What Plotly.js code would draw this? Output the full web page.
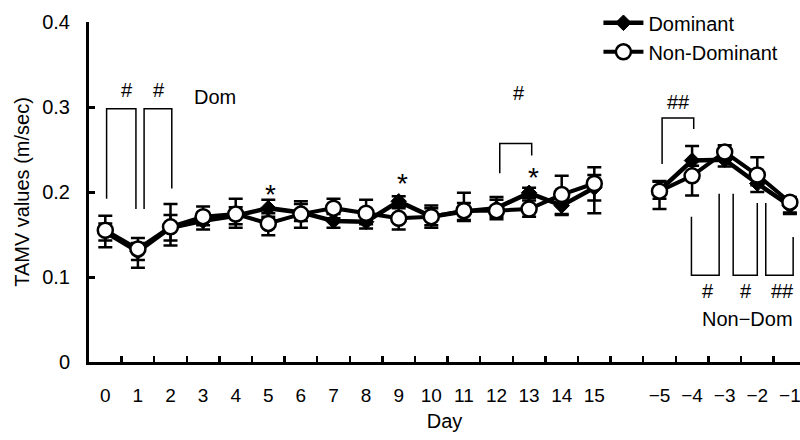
<!DOCTYPE html>
<html>
<head>
<meta charset="utf-8">
<script src="https://cdn.plot.ly/plotly-3.0.1.min.js"></script>
<style>html,body{margin:0;padding:0;background:#fff;}#chart{width:800px;height:440px;}</style>
</head>
<body>
<div id="chart"></div>
<script>
// Category labels (a blank slot separates the two periods)
const dayLabels = ['0','1','2','3','4','5','6','7','8','9','10','11','12','13','14','15','\u00a0','\u22125','\u22124','\u22123','\u22122','\u22121'];

// Dominant (filled diamonds)
const dominant    = [0.153,0.130,0.158,0.166,0.172,0.181,0.176,0.166,0.165,0.189,0.171,0.177,0.181,0.199,0.184,0.205,null,0.202,0.237,0.238,0.210,0.184];
const dominantErr = [0.010,0.010,0.015,0.010,0.010,0.010,0.010,0.008,0.008,0.006,0.010,0.010,0.010,0.006,0.010,0.015,null,0.010,0.017,0.008,0.010,0.008];

// Non-Dominant (open circles)
const nonDominant   = [0.155,0.133,0.159,0.171,0.174,0.163,0.174,0.181,0.175,0.169,0.171,0.178,0.178,0.180,0.197,0.210,null,0.201,0.219,0.247,0.220,0.188];
const nonDomErrPlus = [0.017,0.013,0.027,0.012,0.018,0.012,0.015,0.011,0.016,0.012,0.013,0.021,0.016,0.010,0.022,0.019,null,0.012,0.012,0.008,0.021,0.006];
const nonDomErrMinus= [0.020,0.022,0.022,0.010,0.016,0.014,0.016,0.012,0.013,0.013,0.013,0.012,0.010,0.009,0.024,0.035,null,0.021,0.023,0.008,0.012,0.014];

const yTicks = [0, 0.1, 0.2, 0.3, 0.4];
const yTickText = ['0', '0.1', '0.2', '0.3', '0.4'];

const FONT = 'Liberation Sans, Arial, sans-serif';

const traces = [
  {
    name: 'Dominant', x: dayLabels, y: dominant, type: 'scatter', mode: 'lines+markers',
    connectgaps: false,
    line: {color: '#000', width: 4.5},
    marker: {symbol: 'diamond', size: 12, color: '#000', line: {color: '#000', width: 1}},
    error_y: {type: 'data', array: dominantErr, visible: true, color: '#000', thickness: 2.5, width: 7}
  },
  {
    name: 'Non-Dominant', x: dayLabels, y: nonDominant, type: 'scatter', mode: 'lines+markers',
    connectgaps: false,
    line: {color: '#000', width: 4},
    marker: {symbol: 'circle', size: 15, color: '#fff', line: {color: '#000', width: 2.5}},
    error_y: {type: 'data', symmetric: false, array: nonDomErrPlus, arrayminus: nonDomErrMinus, visible: true, color: '#000', thickness: 2.5, width: 7}
  }
];

const lineStyle = {color: '#000', width: 1.5};
const shapes = [
  'M0.04,0.192 L0.04,0.298 L0.94,0.298 L0.94,0.180',
  'M1.19,0.180 L1.19,0.298 L2.04,0.298 L2.04,0.204',
  'M12.1,0.222 L12.1,0.257 L13.08,0.257 L13.08,0.243',
  'M17.08,0.233 L17.08,0.287 L18.05,0.287 L18.05,0.274',
  'M17.98,0.171 L17.98,0.102 L18.83,0.102 L18.83,0.198',
  'M19.26,0.198 L19.26,0.102 L20.0,0.102 L20.0,0.187',
  'M20.26,0.187 L20.26,0.102 L21.1,0.102 L21.1,0.147'
].map(p => ({type: 'path', xref: 'x', yref: 'y', path: p, line: lineStyle}));

function ann(text, x, y, size, xanchor) {
  return {text: text, x: x, y: y, xref: 'x', yref: 'y', showarrow: false,
          xanchor: xanchor || 'center', yanchor: 'middle',
          font: {family: FONT, size: size, color: '#000'}};
}
const annotations = [
  ann('#', 0.66, 0.320, 20), ann('#', 1.65, 0.320, 20), ann('Dom', 2.65, 0.312, 20, 'left'),
  ann('#', 12.69, 0.317, 20),
  ann('*', 5.06, 0.197, 28), ann('*', 9.13, 0.210, 28), ann('*', 13.15, 0.217, 28),
  ann('##', 17.57, 0.306, 20),
  ann('#', 18.5, 0.084, 20), ann('#', 19.64, 0.084, 20), ann('##', 20.78, 0.084, 20),
  ann('Non\u2212Dom', 19.7, 0.051, 20)
];

const layout = {
  width: 800, height: 440,
  margin: {l: 89, r: 0, t: 22, b: 78, autoexpand: false},
  paper_bgcolor: '#fff', plot_bgcolor: '#fff',
  font: {family: FONT, size: 20, color: '#000'},
  showlegend: true,
  legend: {x: 0.7165, y: 1.055, xanchor: 'left', yanchor: 'top', bgcolor: 'rgba(0,0,0,0)',
           font: {family: FONT, size: 20, color: '#000'}, itemwidth: 40, tracegroupgap: 0},
  xaxis: {
    type: 'category', categoryorder: 'array', categoryarray: dayLabels,
    range: [-0.5, 21.31], showgrid: false, zeroline: false,
    showline: true, linecolor: '#000', linewidth: 3,
    tickson: 'boundaries', ticks: 'inside', ticklen: 6, tickwidth: 2.5, tickcolor: '#000',
    tickangle: 0,
    ticklabelstandoff: 14, ticklabeloverflow: 'allow',
    tickfont: {family: FONT, size: 19, color: '#000'},
    title: {text: 'Day', font: {family: FONT, size: 20, color: '#000'}, standoff: 10}
  },
  yaxis: {
    range: [0, 0.4], showgrid: false, zeroline: false,
    showline: true, linecolor: '#000', linewidth: 3,
    tickmode: 'array', tickvals: yTicks, ticktext: yTickText,
    ticks: 'inside', ticklen: 6, tickwidth: 3, tickcolor: '#000',
    ticklabelstandoff: 12,
    tickfont: {family: FONT, size: 20, color: '#000'},
    title: {text: 'TAMV values (m/sec)', font: {family: FONT, size: 20, color: '#000'}, standoff: 8}
  },
  shapes: shapes,
  annotations: annotations
};

Plotly.newPlot('chart', traces, layout, {displayModeBar: false, staticPlot: true});
</script>
</body>
</html>
